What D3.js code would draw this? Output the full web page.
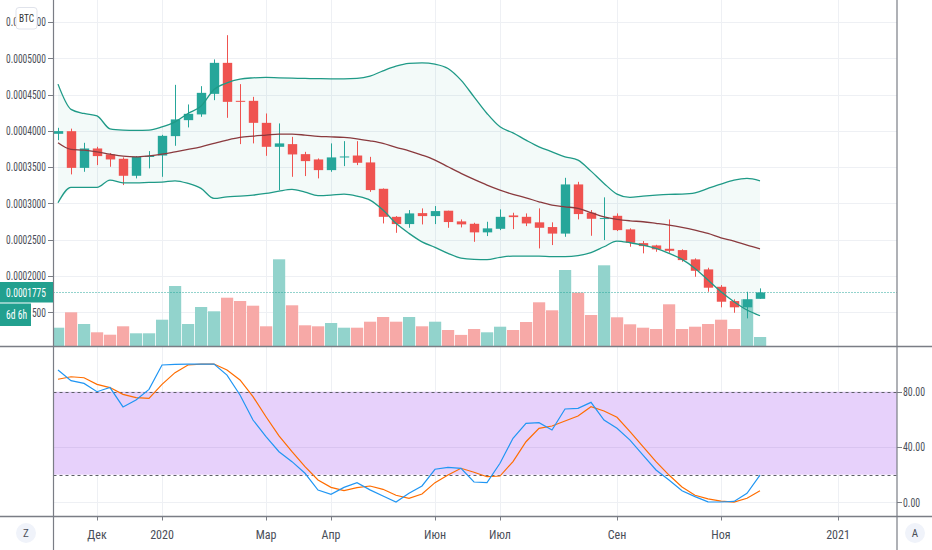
<!DOCTYPE html>
<html><head><meta charset="utf-8">
<script src="https://cdn.jsdelivr.net/npm/d3@7"></script>
<style>
body{margin:0;background:#fff;}
svg{display:block;font-family:"Liberation Sans Narrow","Roboto Condensed","Liberation Sans",sans-serif;}
</style>
</head><body>
<script>
// ---------- DATA ----------
const symbol = "BTC";
const firstBar = "2019-11-11";          // weekly bars (Mondays)
const barCount = 55;
const open  = [0.0003959,0.0003995,0.0003490,0.0003757,0.0003675,0.0003615,0.0003381,0.0003640,0.0003660,0.0003927,0.0004147,0.0004226,0.0004509,0.0004936,0.0004413,0.0004413,0.0004110,0.0003780,0.0003817,0.0003679,0.0003606,0.0003459,0.0003637,0.0003660,0.0003565,0.0003202,0.0002816,0.0002716,0.0002867,0.0002826,0.0002900,0.0002753,0.0002720,0.0002602,0.0002651,0.0002835,0.0002816,0.0002740,0.0002675,0.0002585,0.0003262,0.0002872,0.0002789,0.0002830,0.0002643,0.0002454,0.0002422,0.0002376,0.0002358,0.0002230,0.0002092,0.0001853,0.0001656,0.0001570,0.0001687];
const high  = [0.0004041,0.0004030,0.0003835,0.0003780,0.0003693,0.0003634,0.0003652,0.0003721,0.0003945,0.0004633,0.0004363,0.0004615,0.0004983,0.0005317,0.0004643,0.0004468,0.0004239,0.0004102,0.0003917,0.0003711,0.0003620,0.0003827,0.0003858,0.0003858,0.0003642,0.0003207,0.0002826,0.0002909,0.0002932,0.0002964,0.0002900,0.0002780,0.0002734,0.0002748,0.0002918,0.0002872,0.0002863,0.0002932,0.0002740,0.0003353,0.0003298,0.0002909,0.0003084,0.0002863,0.0002657,0.0002482,0.0002431,0.0002780,0.0002368,0.0002244,0.0002115,0.0001876,0.0001680,0.0001784,0.0001831];
const low   = [0.0003872,0.0003400,0.0003436,0.0003528,0.0003505,0.0003253,0.0003345,0.0003483,0.0003367,0.0003794,0.0004047,0.0004193,0.0004422,0.0004179,0.0003817,0.0003827,0.0003656,0.0003184,0.0003367,0.0003377,0.0003345,0.0003436,0.0003514,0.0003528,0.0003160,0.0002725,0.0002596,0.0002665,0.0002711,0.0002716,0.0002665,0.0002670,0.0002472,0.0002551,0.0002633,0.0002647,0.0002688,0.0002381,0.0002427,0.0002541,0.0002781,0.0002555,0.0002496,0.0002620,0.0002404,0.0002313,0.0002335,0.0002321,0.0002197,0.0001991,0.0001784,0.0001570,0.0001495,0.0001418,0.0001687];
const close = [0.0003996,0.0003490,0.0003757,0.0003652,0.0003606,0.0003381,0.0003642,0.0003655,0.0003931,0.0004157,0.0004234,0.0004523,0.0004936,0.0004399,0.0004399,0.0004110,0.0003780,0.0003827,0.0003675,0.0003583,0.0003459,0.0003634,0.0003647,0.0003560,0.0003184,0.0002816,0.0002716,0.0002863,0.0002826,0.0002895,0.0002744,0.0002712,0.0002602,0.0002657,0.0002816,0.0002812,0.0002725,0.0002665,0.0002585,0.0003262,0.0002854,0.0002789,0.0002799,0.0002633,0.0002459,0.0002413,0.0002368,0.0002348,0.0002220,0.0002073,0.0001840,0.0001647,0.0001570,0.0001680,0.0001775];
const volume = [183,337,220,137,113,197,127,127,263,600,220,390,347,483,450,403,197,867,407,207,197,230,183,183,243,290,243,290,197,243,160,111,170,137,193,160,240,437,357,760,533,310,807,287,217,183,170,417,170,193,220,263,170,467,90];
const bbUpper = [0.0004643,0.0004295,0.0004239,0.0004206,0.0004028,0.0004010,0.0004006,0.0004010,0.0004055,0.0004124,0.0004239,0.0004340,0.0004570,0.0004661,0.0004712,0.0004729,0.0004735,0.0004729,0.0004725,0.0004721,0.0004718,0.0004716,0.0004716,0.0004721,0.0004753,0.0004826,0.0004890,0.0004928,0.0004936,0.0004918,0.0004859,0.0004698,0.0004468,0.0004239,0.0004055,0.0003972,0.0003872,0.0003780,0.0003711,0.0003642,0.0003597,0.0003445,0.0003276,0.0003129,0.0003083,0.0003101,0.0003115,0.0003125,0.0003129,0.0003147,0.0003207,0.0003266,0.0003321,0.0003345,0.0003312];
const bbBasis = [0.0003835,0.0003744,0.0003734,0.0003711,0.0003679,0.0003652,0.0003642,0.0003656,0.0003679,0.0003711,0.0003744,0.0003780,0.0003827,0.0003872,0.0003909,0.0003927,0.0003941,0.0003955,0.0003955,0.0003941,0.0003923,0.0003917,0.0003909,0.0003890,0.0003862,0.0003827,0.0003772,0.0003725,0.0003666,0.0003597,0.0003505,0.0003414,0.0003331,0.0003253,0.0003184,0.0003125,0.0003078,0.0003023,0.0002977,0.0002954,0.0002932,0.0002874,0.0002816,0.0002781,0.0002761,0.0002748,0.0002726,0.0002702,0.0002671,0.0002633,0.0002588,0.0002527,0.0002482,0.0002427,0.0002376];
const bbLower = [0.0003009,0.0003221,0.0003221,0.0003221,0.0003321,0.0003284,0.0003284,0.0003290,0.0003294,0.0003312,0.0003276,0.0003207,0.0003070,0.0003092,0.0003101,0.0003115,0.0003138,0.0003170,0.0003193,0.0003156,0.0003108,0.0003115,0.0003129,0.0003101,0.0003046,0.0002909,0.0002726,0.0002588,0.0002472,0.0002395,0.0002313,0.0002248,0.0002230,0.0002227,0.0002258,0.0002276,0.0002276,0.0002276,0.0002269,0.0002269,0.0002282,0.0002324,0.0002404,0.0002482,0.0002459,0.0002427,0.0002381,0.0002313,0.0002230,0.0002106,0.0001945,0.0001784,0.0001647,0.0001533,0.0001454];
const stochK = [95.7,88,86,80,83,69,74,81.7,99.3,99.8,100,100,100,92,77.6,59.5,47.5,36.6,29.4,21,8.9,5.8,10.8,14.2,9,4.6,0.2,6.5,11.8,23.9,25.3,24.6,14.7,14.2,28.2,46.3,57.1,57.6,52.3,67.5,68,72.3,59.5,53.5,45,34.2,23.4,16.1,8.4,4.1,0.3,0.2,0.6,6.5,19.7];
const stochD = [89,90.8,90.1,85.3,83,78.1,75.7,75.2,85.3,93.8,99.3,100,100,95.7,88.5,76.4,61.9,48,36.6,25.8,16.1,10.8,8.4,10.6,11.8,9.4,5.1,2.9,6,14.2,19.7,24.6,21.7,18.5,19,29.4,43.8,53.5,55.2,58.8,62.4,69.1,66,61.5,51.1,40.2,29.4,19.7,11.1,5.1,2.5,0.8,0.1,2.9,8.4];
const timeTickDates  = ["2019-12-02","2020-01-06","2020-03-02","2020-04-06","2020-06-01","2020-07-06","2020-09-07","2020-11-02","2021-01-04"];
const timeTickLabels = ["Дек","2020","Мар","Апр","Июн","Июл","Сен","Ноя","2021"];
const priceTicks = [0.00015,0.0002,0.00025,0.0003,0.00035,0.0004,0.00045,0.0005,0.00055];
const stochTicks = [0,40,80];
const stochBand = [20,80];
const lastPrice = 0.0001775;
const countdown = "6d 6h";

// ---------- LAYOUT ----------
const W = 932, H = 550;
const L = 53.5, R = 897, mainBot = 346.5, lowTop = 347, lowBot = 516.5;
const UP = "#26a69a", DOWN = "#ef5350";
const GRID = "#eef0f4", AXIS = "#7a7d85", TXT = "#4a4e58";

const svg = d3.select("body").append("svg").attr("width", W).attr("height", H);
const parse = d3.utcParse("%Y-%m-%d");
const start = parse(firstBar);
const dates = d3.utcMonday.range(start, d3.utcMonday.offset(start, barCount));
const x = d3.scaleUtc().domain([dates[0], dates[barCount - 1]]).range([58, 760]);
const y = d3.scaleLinear().domain([0.00015, 0.0005]).range([312.4, 58.2]);
const yVol = d3.scaleLinear().domain([0, 1000]).range([346, 246]);
const yS = d3.scaleLinear().domain([0, 80]).range([502.3, 391.7]);
const tickX = timeTickDates.map(d => x(parse(d)));
const idx = d3.range(barCount);

const defs = svg.append("defs");
defs.append("clipPath").attr("id", "cm").append("rect").attr("x", L).attr("y", 0).attr("width", R - L).attr("height", mainBot);
defs.append("clipPath").attr("id", "cl").append("rect").attr("x", L).attr("y", lowTop).attr("width", R - L).attr("height", lowBot - lowTop);

// ---------- MAIN PANE ----------
const gm = svg.append("g").attr("clip-path", "url(#cm)");
gm.selectAll("line.hg").data(priceTicks).join("line")
  .attr("x1", L).attr("x2", R).attr("y1", d => Math.round(y(d)) + 0.5).attr("y2", d => Math.round(y(d)) + 0.5)
  .attr("stroke", GRID);
gm.selectAll("line.vg").data(tickX).join("line")
  .attr("x1", d => Math.round(d) + 0.5).attr("x2", d => Math.round(d) + 0.5).attr("y1", 0).attr("y2", mainBot)
  .attr("stroke", GRID);

// volume
gm.selectAll("rect.vol").data(idx).join("rect")
  .attr("x", i => x(dates[i]) - 6).attr("width", 12.2)
  .attr("y", i => yVol(volume[i])).attr("height", i => yVol(0) - yVol(volume[i]))
  .attr("fill", i => close[i] >= open[i] ? "#92d3cc" : "#f7a9a7");

// bollinger fill
gm.append("path").datum(idx)
  .attr("d", d3.area().x(i => x(dates[i])).y0(i => y(bbLower[i])).y1(i => y(bbUpper[i])))
  .attr("fill", UP).attr("fill-opacity", 0.055);

// candles
const cg = gm.selectAll("g.c").data(idx).join("g");
cg.append("line")
  .attr("x1", i => Math.round(x(dates[i])) + 0.5).attr("x2", i => Math.round(x(dates[i])) + 0.5)
  .attr("y1", i => y(high[i])).attr("y2", i => y(low[i]))
  .attr("stroke", i => close[i] >= open[i] ? UP : DOWN).attr("stroke-width", 1);
cg.append("rect")
  .attr("x", i => Math.round(x(dates[i])) + 0.5 - 4.7).attr("width", 9.4)
  .attr("y", i => y(Math.max(open[i], close[i])))
  .attr("height", i => Math.max(1, Math.abs(y(open[i]) - y(close[i]))))
  .attr("fill", i => close[i] >= open[i] ? UP : DOWN);

// bollinger lines
const bl = arr => d3.line().x(i => x(dates[i])).y(i => y(arr[i])).curve(d3.curveMonotoneX);
gm.append("path").datum(idx).attr("d", bl(bbUpper)).attr("fill", "none").attr("stroke", "#1f9a87").attr("stroke-width", 1.3);
gm.append("path").datum(idx).attr("d", bl(bbLower)).attr("fill", "none").attr("stroke", "#1f9a87").attr("stroke-width", 1.3);
gm.append("path").datum(idx).attr("d", bl(bbBasis)).attr("fill", "none").attr("stroke", "#8a3a3e").attr("stroke-width", 1.3);

// last price dotted line
gm.append("line").attr("x1", L).attr("x2", R)
  .attr("y1", Math.round(y(lastPrice)) + 0.5).attr("y2", Math.round(y(lastPrice)) + 0.5)
  .attr("stroke", UP).attr("stroke-dasharray", "1,2");

// ---------- LOWER PANE ----------
const gl = svg.append("g").attr("clip-path", "url(#cl)");
gl.selectAll("line.vg").data(tickX).join("line")
  .attr("x1", d => Math.round(d) + 0.5).attr("x2", d => Math.round(d) + 0.5).attr("y1", lowTop).attr("y2", lowBot)
  .attr("stroke", GRID);
gl.append("rect").attr("x", L).attr("width", R - L)
  .attr("y", yS(stochBand[1])).attr("height", yS(stochBand[0]) - yS(stochBand[1]))
  .attr("fill", "#e7d1fb");
gl.selectAll("line.hg").data(stochTicks).join("line")
  .attr("x1", L).attr("x2", R).attr("y1", d => Math.round(yS(d)) + 0.5).attr("y2", d => Math.round(yS(d)) + 0.5)
  .attr("stroke", d => d === 0 ? GRID : "#d9c4f0");
gl.selectAll("line.band").data(stochBand).join("line")
  .attr("x1", L).attr("x2", R).attr("y1", d => Math.round(yS(d)) + 0.5).attr("y2", d => Math.round(yS(d)) + 0.5)
  .attr("stroke", "#5d5f66").attr("stroke-dasharray", "3,3");
const sl = arr => d3.line().x(i => x(dates[i])).y(i => yS(arr[i]));
gl.append("path").datum(idx).attr("d", sl(stochD)).attr("fill", "none").attr("stroke", "#ff6d00").attr("stroke-width", 1.2);
gl.append("path").datum(idx).attr("d", sl(stochK)).attr("fill", "none").attr("stroke", "#2196f3").attr("stroke-width", 1.2);

// ---------- AXES / FRAME ----------
const fr = svg.append("g").attr("stroke", AXIS);
fr.append("line").attr("x1", 0).attr("x2", W).attr("y1", mainBot).attr("y2", mainBot).attr("stroke-width", 1.5);
fr.append("line").attr("x1", 0).attr("x2", W).attr("y1", lowBot).attr("y2", lowBot).attr("stroke-width", 1.5);
fr.append("line").attr("x1", L).attr("x2", L).attr("y1", 0).attr("y2", H).attr("stroke-width", 1.2);
fr.append("line").attr("x1", R).attr("x2", R).attr("y1", 0).attr("y2", H).attr("stroke-width", 1.2);

// price axis (left)
const pa = svg.append("g");
pa.selectAll("line").data(priceTicks).join("line")
  .attr("x1", 48).attr("x2", L).attr("y1", d => Math.round(y(d)) + 0.5).attr("y2", d => Math.round(y(d)) + 0.5)
  .attr("stroke", AXIS);
pa.selectAll("text").data(priceTicks).join("text")
  .attr("x", 6).attr("y", d => y(d)).attr("dy", "0.36em")
  .attr("font-size", 12).attr("fill", TXT)
  .attr("textLength", 40).attr("lengthAdjust", "spacingAndGlyphs")
  .text(d => d.toFixed(7));

// stoch axis (right)
const sa = svg.append("g");
sa.selectAll("line").data(stochTicks).join("line")
  .attr("x1", R).attr("x2", R + 5).attr("y1", d => Math.round(yS(d)) + 0.5).attr("y2", d => Math.round(yS(d)) + 0.5)
  .attr("stroke", AXIS);
sa.selectAll("text").data(stochTicks).join("text")
  .attr("x", 903).attr("y", d => yS(d)).attr("dy", "0.36em")
  .attr("font-size", 12).attr("fill", TXT)
  .attr("textLength", d => d === 0 ? 17 : 22).attr("lengthAdjust", "spacingAndGlyphs")
  .text(d => d.toFixed(2));

// time axis
const ta = svg.append("g");
ta.selectAll("line").data(tickX).join("line")
  .attr("x1", d => Math.round(d) + 0.5).attr("x2", d => Math.round(d) + 0.5).attr("y1", lowBot).attr("y2", lowBot + 4)
  .attr("stroke", AXIS);
ta.selectAll("text").data(timeTickLabels).join("text")
  .attr("x", (d, i) => tickX[i]).attr("y", 535).attr("dy", "0.36em")
  .attr("text-anchor", "middle").attr("font-size", 12).attr("fill", TXT)
  .text(d => d);

// last price label + countdown
svg.append("rect").attr("x", 0).attr("y", 282).attr("width", L - 0.5).attr("height", 20.5).attr("fill", "#22a08f");
svg.append("text").attr("x", 6).attr("y", 292.3).attr("dy", "0.36em").attr("font-size", 12).attr("fill", "#fff")
  .attr("textLength", 40).attr("lengthAdjust", "spacingAndGlyphs").text(lastPrice.toFixed(7));
svg.append("rect").attr("x", 0).attr("y", 303.5).attr("width", 31).attr("height", 22.5).attr("fill", "#22a08f");
svg.append("text").attr("x", 6).attr("y", 315).attr("dy", "0.36em").attr("font-size", 12).attr("fill", "#fff")
  .attr("textLength", 21).attr("lengthAdjust", "spacingAndGlyphs").text(countdown);

// symbol badge
svg.append("rect").attr("x", 16).attr("y", 7.5).attr("width", 21).attr("height", 21.5).attr("rx", 3)
  .attr("fill", "#fff").attr("stroke", "#e0e3eb");
svg.append("text").attr("x", 26.5).attr("y", 18).attr("dy", "0.36em").attr("text-anchor", "middle")
  .attr("font-size", 11).attr("fill", "#333").attr("textLength", 15).attr("lengthAdjust", "spacingAndGlyphs").text(symbol);

// Z / A buttons
[[26, "Z"], [915, "A"]].forEach(([cx, t]) => {
  svg.append("circle").attr("cx", cx).attr("cy", 533).attr("r", 10).attr("fill", "#f0f3fa");
  svg.append("text").attr("x", cx).attr("y", 533).attr("dy", "0.36em").attr("text-anchor", "middle")
    .attr("font-size", 11).attr("fill", "#4a4e58").text(t);
});
</script>
</body></html>
